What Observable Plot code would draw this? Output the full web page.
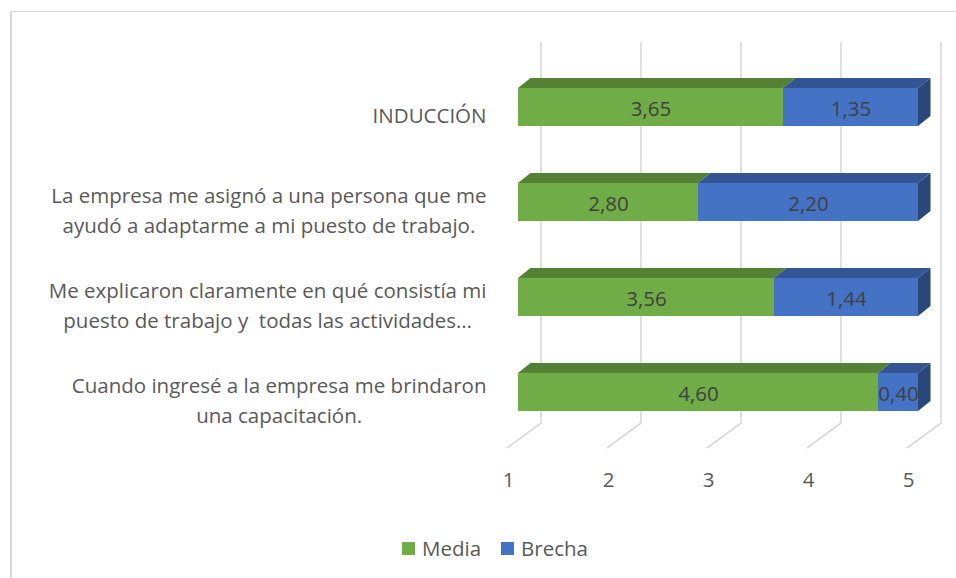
<!DOCTYPE html>
<html><head><meta charset="utf-8">
<script src="https://cdn.jsdelivr.net/npm/d3@7"></script>
<script src="https://cdn.jsdelivr.net/npm/@observablehq/plot@0.6"></script>
<style>
html,body{margin:0;padding:0;background:#fff;overflow:hidden;width:956px;height:578px;}
body{position:relative;font-family:"Open Sans",sans-serif;}
#frame{position:absolute;left:10px;top:11px;width:2000px;height:2000px;border-left:2px solid #D9D9D9;border-top:1px solid #D9D9D9;pointer-events:none;}
#chart{position:absolute;left:0;top:0;}
#legend{position:absolute;left:402px;top:536px;display:flex;align-items:center;font-size:20.5px;color:#595959;line-height:24px;}
.sw{width:13px;height:13px;margin-right:7px;}
.item{display:flex;align-items:center;margin-right:20px;}
</style></head><body>
<div id="frame"></div><div id="chart"></div><div id="legend"></div>
<script>
const categories = [
  "INDUCCIÓN",
  "La empresa me asignó a una persona que me\nayudó a adaptarme a mi puesto de trabajo.",
  "Me explicaron claramente en qué consistía mi\npuesto de trabajo y  todas las actividades…",
  "Cuando ingresé a la empresa me brindaron\nuna capacitación."
];
const media  = [3.65, 2.80, 3.56, 4.60];
const brecha = [1.35, 2.20, 1.44, 0.40];
const xTicks = [1, 2, 3, 4, 5];
const seriesNames = ["Media", "Brecha"];
const frontColors = ["#70AD47", "#4472C4"];
const topColors = ["#548235", "#335593"];
const sideColor = "#2A477A";

const FS = 20.5;
const DX = 12.5, DY = 10;
const fmt = v => d3.format(".2f")(v).replace(".", ",");

const rows = categories.flatMap((c, i) => [
  {cat: c, series: seriesNames[0], x1: xTicks[0], x2: media[i], v: media[i]},
  {cat: c, series: seriesNames[1], x1: media[i], x2: media[i] + brecha[i], v: brecha[i]}
]);
const bySeries = s => rows.filter(d => d.series === s);

function face(kind) {
  return (index, scales, values, dims, ctx, next) => {
    const g = next(index, scales, values, dims, ctx);
    g.querySelectorAll("rect").forEach(r => {
      const x = +r.getAttribute("x"), y = +r.getAttribute("y"),
            w = +r.getAttribute("width"), h = +r.getAttribute("height");
      const pts = kind === "top"
        ? [[x, y], [x + DX, y - DY], [x + w + DX, y - DY], [x + w, y]]
        : [[x + w, y], [x + w + DX, y - DY], [x + w + DX, y + h - DY], [x + w, y + h]];
      const p = document.createElementNS("http://www.w3.org/2000/svg", "polygon");
      p.setAttribute("points", pts.map(q => q.join(",")).join(" "));
      r.replaceWith(p);
    });
    return g;
  };
}

function gridRender(index, scales, values, dims) {
  const g = d3.create("svg:g").attr("fill", "none").attr("stroke", "#D9D9D9").attr("stroke-width", 1.6);
  const yt = dims.marginTop - 17.5;
  const yb = dims.height - dims.marginBottom;
  for (const i of index) {
    const x = values.x[i];
    g.append("path").attr("d", `M${x + 23},${yt}L${x + 23},${yb - 16.5}L${x - 11},${yb + 8.5}`);
  }
  return g.node();
}

const mctx = document.createElement("canvas").getContext("2d");
mctx.font = `${FS}px "Open Sans"`;
const labelMarks = categories.map(c => {
  const w = d3.max(c.split("\n"), l => mctx.measureText(l).width);
  return Plot.text([c], {y: d => d, text: d => d, frameAnchor: "left", textAnchor: "middle",
    dx: -(32 + w / 2), dy: 6, lineHeight: 1.46, fill: "#595959"});
});

const chart = Plot.plot({
  width: 956, height: 530,
  marginLeft: 518, marginRight: 38, marginTop: 59.5, marginBottom: 90.5,
  x: {domain: [xTicks[0], xTicks[xTicks.length - 1]], axis: null},
  y: {domain: categories, axis: null, paddingInner: 0.6, paddingOuter: 0.3},
  style: {fontFamily: '"Open Sans", sans-serif', fontSize: FS + "px", color: "#595959", background: "transparent", overflow: "visible"},
  marks: [
    Plot.ruleX(xTicks, {x: d => d, render: gridRender}),
    Plot.barX(bySeries("Media"), {x1: "x1", x2: "x2", y: "cat", fill: frontColors[0]}),
    Plot.barX(bySeries("Media"), {x1: "x1", x2: "x2", y: "cat", fill: topColors[0], render: face("top")}),
    Plot.barX(bySeries("Brecha"), {x1: "x1", x2: "x2", y: "cat", fill: frontColors[1]}),
    Plot.barX(bySeries("Brecha"), {x1: "x1", x2: "x2", y: "cat", fill: topColors[1], render: face("top")}),
    Plot.barX(bySeries("Brecha"), {x1: "x1", x2: "x2", y: "cat", fill: sideColor, render: face("side")}),
    Plot.text(rows, {x: d => (d.x1 + d.x2) / 2, y: "cat", text: d => fmt(d.v), fill: "#404040", dy: 1.5, fontSize: FS}),
    ...labelMarks,
    Plot.axisX({ticks: xTicks, tickSize: 0, tickPadding: 32, dx: -10, fontSize: FS, tickFormat: d => String(d)})
  ]
});
document.getElementById("chart").appendChild(chart);

const legend = document.getElementById("legend");
seriesNames.forEach((s, i) => {
  const item = document.createElement("div");
  item.className = "item";
  const sw = document.createElement("div");
  sw.className = "sw";
  sw.style.background = frontColors[i];
  const t = document.createElement("span");
  t.textContent = s;
  item.appendChild(sw); item.appendChild(t);
  legend.appendChild(item);
});
</script>
</body></html>
